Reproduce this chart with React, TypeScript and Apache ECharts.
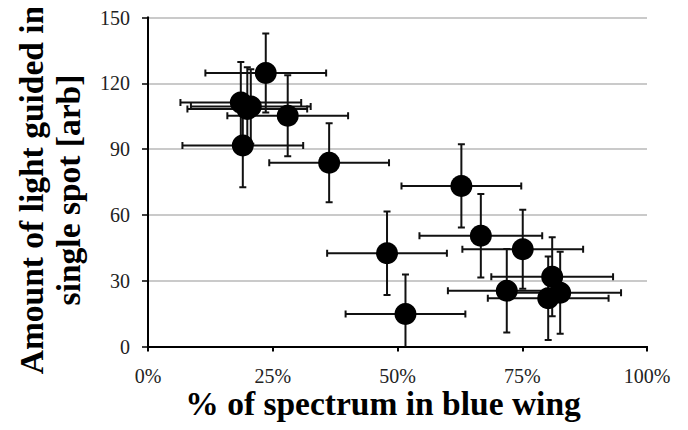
import React, { useEffect, useRef } from "react";
import * as echarts from "echarts";

const xVals = [23.6, 18.6, 20.6, 19.9, 19.0, 28.0, 36.3, 62.8, 47.9, 51.6, 66.7, 75.1, 81.0, 71.9, 80.2, 82.6];
const yVals = [124.7, 111.2, 109.4, 108.3, 91.6, 105.2, 83.8, 73.2, 42.5, 14.8, 50.5, 44.3, 31.8, 25.4, 22.0, 24.5];
const xErr = [12.1, 12.1, 12.0, 12.0, 12.1, 12.1, 12.0, 12.0, 12.0, 12.0, 12.3, 12.1, 12.2, 11.8, 12.1, 12.2];
const yErr = [18.0, 18.5, 17.0, 19.0, 19.0, 18.5, 18.0, 19.0, 19.0, 18.0, 19.0, 18.0, 18.0, 19.0, 19.0, 18.7];

const xTicks = [0, 25, 50, 75, 100];
const yTicks = [0, 30, 60, 90, 120, 150];

const xTitle = "% of spectrum in blue wing";
const yTitle = "Amount of light guided in\nsingle spot [arb]";

const SERIF = "'Liberation Serif', 'Times New Roman', serif";

export default function App() {
  const ref = useRef<HTMLDivElement>(null);
  useEffect(() => {
    if (!ref.current) return;
    const chart = echarts.init(ref.current, undefined, { renderer: "svg" });
    const points = xVals.map((x, i) => [x, yVals[i]]);
    const errData = xVals.map((x, i) => [x, yVals[i], xErr[i], yErr[i]]);
    const cap = 3.5;
    const plainAxis = {
      show: true,
      axisLine: { show: true, lineStyle: { color: "#000", width: 2 } },
      axisTick: { show: false },
      axisLabel: { show: false },
      splitLine: { show: false },
    };
    chart.setOption({
      animation: false,
      backgroundColor: "#fff",
      grid: {
        left: 148,
        right: 41,
        top: 17.5,
        bottom: 83.5,
        containLabel: false,
      },
      xAxis: [
        {
          type: "value",
          min: xTicks[0],
          max: xTicks[xTicks.length - 1],
          interval: 25,
          axisLine: { show: true, lineStyle: { color: "#000", width: 2 } },
          axisTick: { show: true, inside: false, length: 5, lineStyle: { color: "#000", width: 2 } },
          axisLabel: {
            margin: 19,
            color: "#222",
            fontFamily: SERIF,
            fontSize: 20,
            formatter: (v: number) => `${v}%`,
          },
          splitLine: { show: false },
        },
        { type: "value", position: "top", min: 0, max: 100, ...plainAxis },
      ],
      yAxis: [
        {
          type: "value",
          min: yTicks[0],
          max: yTicks[yTicks.length - 1],
          interval: 30,
          axisLine: { show: true, lineStyle: { color: "#000", width: 2 } },
          axisTick: { show: true, inside: false, length: 6, lineStyle: { color: "#000", width: 1.5 } },
          axisLabel: {
            margin: 18,
            color: "#222",
            fontFamily: SERIF,
            fontSize: 20,
          },
          splitLine: { show: true, lineStyle: { color: "#b8b8b8", width: 1.5 } },
        },
        { type: "value", position: "right", min: 0, max: 150, ...plainAxis },
      ],
      graphic: [
        {
          type: "text",
          x: 383,
          y: 403,
          style: {
            text: xTitle,
            align: "center",
            verticalAlign: "middle",
            font: `bold 33.5px ${SERIF}`,
            fill: "#000",
          },
        },
        {
          type: "text",
          x: 50,
          y: 190,
          rotation: Math.PI / 2,
          style: {
            text: yTitle,
            align: "center",
            verticalAlign: "middle",
            font: `bold 33.5px ${SERIF}`,
            lineHeight: 37,
            fill: "#000",
          },
        },
      ],
      series: [
        {
          type: "custom",
          clip: true,
          z: 1,
          data: errData,
          renderItem: (params: any, api: any) => {
            const x = api.value(0);
            const y = api.value(1);
            const ex = api.value(2);
            const ey = api.value(3);
            const l = api.coord([x - ex, y]);
            const r = api.coord([x + ex, y]);
            const t = api.coord([x, y + ey]);
            const b = api.coord([x, y - ey]);
            const style = { stroke: "#111", lineWidth: 2 };
            return {
              type: "group",
              children: [
                { type: "line", shape: { x1: l[0], y1: l[1], x2: r[0], y2: r[1] }, style },
                { type: "line", shape: { x1: l[0], y1: l[1] - cap, x2: l[0], y2: l[1] + cap }, style },
                { type: "line", shape: { x1: r[0], y1: r[1] - cap, x2: r[0], y2: r[1] + cap }, style },
                { type: "line", shape: { x1: t[0], y1: t[1], x2: b[0], y2: b[1] }, style },
                { type: "line", shape: { x1: t[0] - cap, y1: t[1], x2: t[0] + cap, y2: t[1] }, style },
                { type: "line", shape: { x1: b[0] - cap, y1: b[1], x2: b[0] + cap, y2: b[1] }, style },
              ],
            };
          },
        },
        {
          type: "scatter",
          z: 2,
          symbol: "circle",
          symbolSize: 22,
          itemStyle: { color: "#000", opacity: 1 },
          data: points,
        },
      ],
    });
    return () => chart.dispose();
  }, []);
  return <div ref={ref} style={{ width: 688, height: 430, margin: -8 }} />;
}
